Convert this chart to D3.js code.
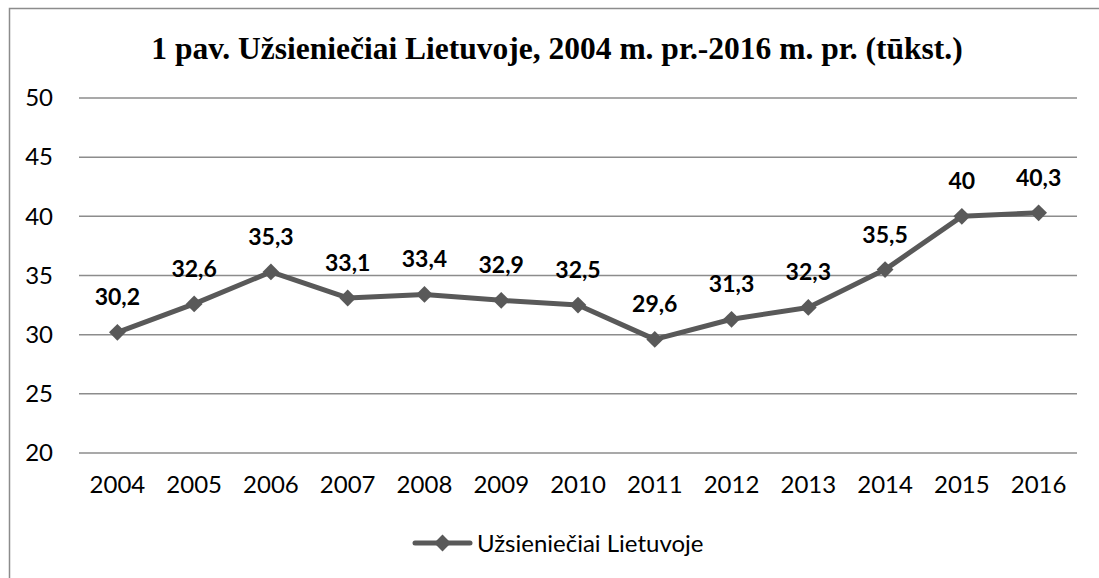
<!DOCTYPE html>
<html>
<head>
<meta charset="utf-8">
<script src="https://cdn.jsdelivr.net/npm/d3@7"></script>
<style>
  body { margin: 0; background: #fff; }
  svg text { fill: #000; }
</style>
</head>
<body>
<div id="chart"></div>
<script>
// data
var years = ["2004", "2005", "2006", "2007", "2008", "2009", "2010", "2011", "2012", "2013", "2014", "2015", "2016"];
var values = [30.2, 32.6, 35.3, 33.1, 33.4, 32.9, 32.5, 29.6, 31.3, 32.3, 35.5, 40, 40.3];
var yTicks = [20, 25, 30, 35, 40, 45, 50];
var seriesName = "Užsieniečiai Lietuvoje";
var chartTitle = "1 pav. Užsieniečiai Lietuvoje, 2004 m. pr.-2016 m. pr. (tūkst.)";

var svgWidth = 1099, svgHeight = 578;
var margin = { top: 98, right: 22, bottom: 125, left: 79 };
var width = svgWidth - margin.left - margin.right;
var height = svgHeight - margin.top - margin.bottom;
var lineColor = "#595959";
var sansFont = "Lato, 'Open Sans', sans-serif";

var svg = d3.select("#chart").append("svg")
  .attr("width", svgWidth)
  .attr("height", svgHeight);

// outer frame (only top and left edges visible)
svg.append("path")
  .attr("d", "M9.5,578 V8.5 H1099")
  .attr("fill", "none")
  .attr("stroke", "#8c8c8c")
  .attr("stroke-width", 1.5);

svg.append("text")
  .attr("x", 557)
  .attr("y", 59)
  .attr("text-anchor", "middle")
  .style("font-family", "'Liberation Serif', 'Times New Roman', serif")
  .style("font-weight", "bold")
  .style("font-size", "31.5px")
  .text(chartTitle);

var chartGroup = svg.append("g")
  .attr("transform", `translate(${margin.left}, ${margin.top})`);

var xScale = d3.scaleBand().domain(years).range([0, width]);
var yScale = d3.scaleLinear().domain([20, 50]).range([height, 0]);

// gridlines
chartGroup.append("g")
  .selectAll("line")
  .data(yTicks)
  .enter()
  .append("line")
  .attr("x1", 0)
  .attr("x2", width)
  .attr("y1", d => yScale(d))
  .attr("y2", d => yScale(d))
  .attr("stroke", "#8c8c8c")
  .attr("stroke-width", 1.5);

// y axis labels
var leftAxis = d3.axisLeft(yScale).tickValues(yTicks).tickSize(0).tickPadding(26);
chartGroup.append("g")
  .call(leftAxis)
  .call(g => g.select(".domain").remove())
  .selectAll("text")
  .style("font-family", sansFont)
  .style("font-size", "24px");

// x axis labels
var bottomAxis = d3.axisBottom(xScale).tickSize(0).tickPadding(23);
chartGroup.append("g")
  .attr("transform", `translate(0, ${height})`)
  .call(bottomAxis)
  .call(g => g.select(".domain").remove())
  .selectAll("text")
  .style("font-family", sansFont)
  .style("font-size", "24px");

var cx = (d, i) => xScale(years[i]) + xScale.bandwidth() / 2;

var line = d3.line()
  .x((d, i) => cx(d, i))
  .y(d => yScale(d));

chartGroup.append("path")
  .datum(values)
  .attr("d", line)
  .attr("fill", "none")
  .attr("stroke", lineColor)
  .attr("stroke-width", 5)
  .attr("stroke-linejoin", "round");

var diamond = d3.symbol().type(d3.symbolDiamond2).size(180);

chartGroup.selectAll(".marker")
  .data(values)
  .enter()
  .append("path")
  .attr("class", "marker")
  .attr("d", diamond)
  .attr("transform", (d, i) => `translate(${cx(d, i)}, ${yScale(d)})`)
  .attr("fill", lineColor);

// data labels
chartGroup.selectAll(".dlabel")
  .data(values)
  .enter()
  .append("text")
  .attr("class", "dlabel")
  .attr("x", (d, i) => cx(d, i))
  .attr("y", d => yScale(d) - 27)
  .attr("text-anchor", "middle")
  .style("font-family", sansFont)
  .style("font-weight", "bold")
  .style("font-size", "23px")
  .text(d => String(d).replace(".", ","));

// legend
var legend = svg.append("g").attr("transform", "translate(415, 543)");
legend.append("line")
  .attr("x1", 0).attr("x2", 55)
  .attr("stroke", lineColor)
  .attr("stroke-width", 5)
  .attr("stroke-linecap", "round");
legend.append("path")
  .attr("d", diamond)
  .attr("transform", "translate(27.5, 0)")
  .attr("fill", lineColor);
legend.append("text")
  .attr("x", 62)
  .attr("y", 8.5)
  .style("font-family", sansFont)
  .style("font-size", "24px")
  .text(seriesName);
</script>
</body>
</html>
